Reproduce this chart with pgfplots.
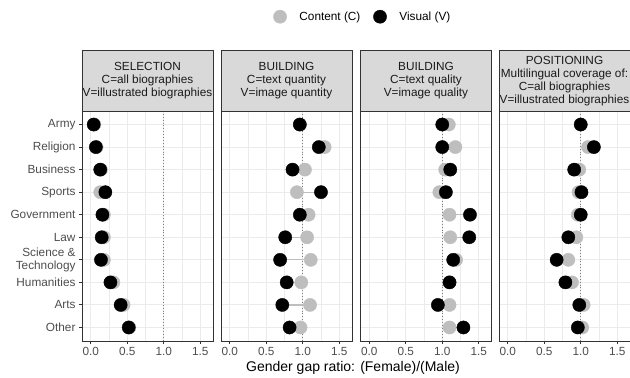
\documentclass[border=0pt]{standalone}
\usepackage{fontspec}
\setmainfont{Liberation Sans}
\usepackage{pgfplots}
\usepackage{pgfplotstable}
\pgfplotsset{compat=1.18}

\definecolor{cgrey}{HTML}{BEBEBE}
\definecolor{segc}{HTML}{BEBEBE}
\definecolor{gridc}{HTML}{EBEBEB}
\definecolor{borderc}{HTML}{333333}
\definecolor{stripc}{HTML}{D9D9D9}
\definecolor{tickc}{HTML}{4D4D4D}
\definecolor{stript}{HTML}{1A1A1A}
\definecolor{refc}{HTML}{808080}

% rows: 1 Army ... 10 Other; c = Content, v = Visual
\pgfplotstableread{
y c v
1 0.05 0.04
2 0.08 0.07
3 0.14 0.13
4 0.13 0.20
5 0.18 0.16
6 0.18 0.15
7 0.18 0.14
8 0.31 0.27
9 0.45 0.41
10 0.53 0.52
}\tabSelection
\pgfplotstableread{
y c v
1 0.96 0.96
2 1.30 1.22
3 1.03 0.86
4 0.92 1.25
5 1.08 0.96
6 1.06 0.76
7 1.11 0.69
8 0.98 0.78
9 1.10 0.72
10 0.97 0.82
}\tabQuantity
\pgfplotstableread{
y c v
1 1.09 1.00
2 1.18 1.00
3 1.04 1.11
4 0.96 1.05
5 1.10 1.38
6 1.11 1.37
7 1.19 1.15
8 1.10 1.10
9 1.10 0.94
10 1.10 1.29
}\tabQuality
\pgfplotstableread{
y c v
1 1.00 1.00
2 1.10 1.18
3 0.98 0.91
4 0.97 1.01
5 0.96 1.00
6 0.94 0.83
7 0.83 0.67
8 0.88 0.79
9 1.04 0.98
10 1.02 0.96
}\tabPositioning

\pgfplotsset{
  panel/.style={
    scale only axis, width=131bp, height=230bp,
    anchor=south west,
    xmin=-0.12, xmax=1.675, ymin=0.4, ymax=10.6, y dir=reverse,
    xtick={0,0.5,1,1.5}, xticklabels={0.0,0.5,1.0,1.5},
    minor xtick={0.25,0.75,1.25},
    ytick={1,...,10},
    xtick pos=bottom, ytick pos=left,
    grid=both,
    major grid style={gridc, line width=1bp},
    minor grid style={gridc, line width=0.55bp},
    axis line style={borderc, line width=1bp},
    tick align=outside, major tick length=3bp, minor tick length=0pt,
    tick style={borderc, line width=0.9bp},
    xticklabel style={font=\fontsize{11.8bp}{13bp}\selectfont, text=tickc},
    yticklabel style={font=\fontsize{11.8bp}{13.3bp}\selectfont, text=tickc, align=right},
    clip=false,
  },
  noyticks/.style={ymajorticks=false, ymajorgrids=true},
}

% one dumbbell panel: reference line, segments, Content then Visual points
\newcommand{\dumbbells}[1]{%
  \addplot[forget plot, refc, dotted, line width=0.9bp] coordinates {(1,0.4) (1,10.6)};
  \addplot[forget plot, only marks, mark=none,
    error bars/.cd, x dir=plus, x explicit, error mark=none,
    error bar style={segc, line width=1.3bp}]
    table[x=c, y=y, x error expr=\thisrow{v}-\thisrow{c}] {#1};
  \addplot[only marks, mark=*, mark size=6.6bp, cgrey, mark options={draw=cgrey, fill=cgrey}]
    table[x=c, y=y] {#1};
  \addplot[only marks, mark=*, mark size=6.6bp, black, mark options={draw=black, fill=black}]
    table[x=v, y=y] {#1};
}

\newcommand{\strip}[2]{%
  \begin{scope}
    \clip (#1bp,-50bp) rectangle ++(131bp,-61bp);
    \fill[stripc] (#1bp,-50bp) rectangle ++(131bp,-61bp);
    \node[align=center, text=stript, font=\fontsize{11.8bp}{12.9bp}\selectfont]
      at (#1bp+65.5bp,-80.8bp) {#2};
  \end{scope}
  \draw[borderc, line width=1bp] (#1bp,-50bp) rectangle ++(131bp,-61bp);
}

\begin{document}
\begin{tikzpicture}
\useasboundingbox (0,0) rectangle (630bp,-378bp);

\begin{axis}[panel, at={(82bp,-341bp)},
  yticklabels={Army,Religion,Business,Sports,Government,Law,{Science \&\\Technology},Humanities,Arts,Other},
  legend image code/.code={%
    \path[draw=none, fill=none] (0bp,-6.6bp) rectangle (24bp,6.6bp);
    \draw[#1] plot coordinates {(6.6bp,0bp)};},
  legend style={at={(1.46,1.41)}, anchor=west, draw=none, fill=none,
    inner sep=0pt,
    legend columns=2, font=\fontsize{11.8bp}{13bp}\selectfont,
    /tikz/every even column/.append style={column sep=11bp}},
  ]
  \dumbbells{\tabSelection}
  \legend{Content (C), Visual (V)}
\end{axis}

\begin{axis}[panel, noyticks, at={(221bp,-341bp)}]
  \dumbbells{\tabQuantity}
\end{axis}

\begin{axis}[panel, noyticks, at={(360.5bp,-341bp)}]
  \dumbbells{\tabQuality}
\end{axis}

\begin{axis}[panel, noyticks, at={(499bp,-341bp)}]
  \dumbbells{\tabPositioning}
\end{axis}

\strip{82}{SELECTION\\C=all biographies\\V=illustrated biographies}
\strip{221}{BUILDING\\C=text quantity\\V=image quantity}
\strip{360.5}{BUILDING\\C=text quality\\V=image quality}
\strip{499}{POSITIONING\\Multilingual coverage of:\\C=all biographies\\V=illustrated biographies}

\node[font=\fontsize{14bp}{16bp}\selectfont] at (353bp,-368bp) {Gender gap ratio: (Female)/(Male)};
\end{tikzpicture}
\end{document}
